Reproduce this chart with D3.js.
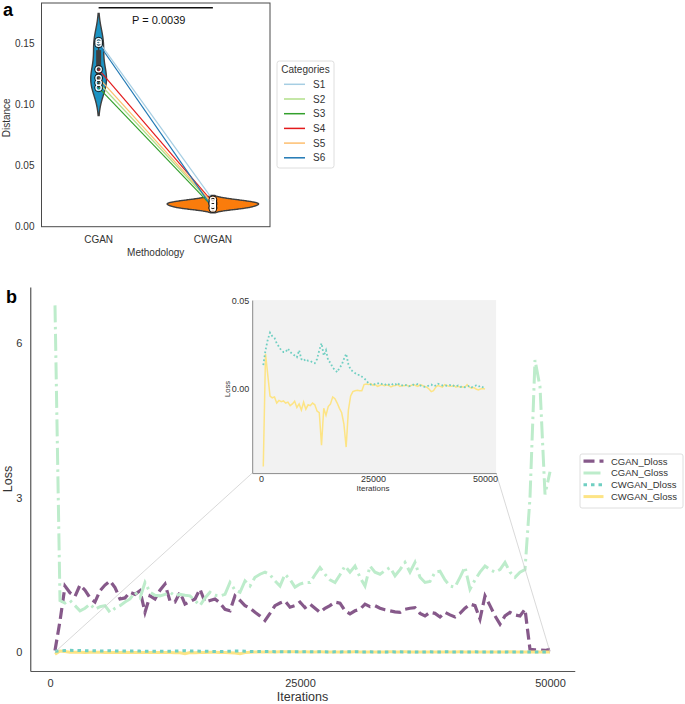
<!DOCTYPE html>
<html>
<head>
<meta charset="utf-8">
<script src="https://cdn.jsdelivr.net/npm/d3@7"></script>
<style>
  body { margin: 0; background: #fff; }
  svg { font-family: "Liberation Sans", Arial, sans-serif; }
</style>
</head>
<body>
<svg id="chart" width="685" height="704"></svg>
<script>
// ---- panel a data
const categories = ["CGAN", "CWGAN"];
const subjects = ["S1", "S2", "S3", "S4", "S5", "S6"];
const cganDistance = [0.152, 0.118, 0.114, 0.129, 0.122, 0.150];
const cwganDistance = [0.022, 0.018, 0.016, 0.020, 0.019, 0.015];
const distanceTicks = [0, 0.05, 0.10, 0.15];
const pValueText = "P = 0.0039";

// ---- panel b data (one value every 500 iterations)
const lossSeries = ["CGAN_Dloss", "CGAN_Gloss", "CWGAN_Dloss", "CWGAN_Gloss"];
const iterations = d3.range(500, 50001, 500);
const cganDloss = [
  0.03, 0.6, 1.28, 1.15, 1.08, 1.3, 1.2, 1.05, 0.97, 1.19,
  1.3, 1.38, 1.25, 1.03, 1.05, 1.16, 1.12, 1.19, 0.77, 1.09,
  1.03, 1.2, 1.32, 0.99, 0.97, 1.16, 0.93, 0.98, 1.03, 1.22,
  0.97, 1.0, 1.03, 0.95, 0.83, 0.8, 1.09, 1.0, 0.9, 0.85,
  0.77, 0.7, 0.61, 0.75, 0.9, 0.95, 0.99, 0.87, 0.9, 0.97,
  0.86, 0.93, 0.85, 0.77, 0.85, 0.9, 0.97, 0.95, 0.8, 0.74,
  0.8, 0.83, 0.93, 0.88, 0.9, 0.85, 0.82, 0.8, 0.78, 0.77,
  0.83, 0.85, 0.86, 0.75, 0.7, 0.77, 0.75, 0.68, 0.77, 0.72,
  0.68, 0.75, 0.85, 0.93, 0.9, 0.64, 1.09, 0.9, 0.7, 0.54,
  0.7, 0.77, 0.72, 0.7, 0.83, 0.05, 0.04, 0.04, 0.03, 0.05];
const cganGloss = [
  6.73, 1.0, 0.95, 1.0, 0.9, 0.8, 0.85, 0.93, 0.83, 0.88,
  0.9, 0.77, 0.85, 0.9, 0.97, 1.03, 1.16, 1.05, 1.35, 1.16,
  1.1, 1.09, 1.12, 1.16, 1.09, 1.12, 1.1, 1.09, 1.0, 0.9,
  1.05, 1.16, 1.1, 1.09, 1.12, 1.35, 1.2, 1.16, 1.38, 1.28,
  1.45, 1.51, 1.55, 1.5, 1.38, 1.28, 1.51, 1.41, 1.26, 1.32,
  1.35, 1.35, 1.5, 1.64, 1.51, 1.4, 1.35, 1.5, 1.67, 1.55,
  1.67, 1.45, 1.28, 1.67, 1.55, 1.51, 1.58, 1.64, 1.48, 1.6,
  1.74, 1.55, 1.74, 1.45, 1.35, 1.37, 1.55, 1.57, 1.4, 1.28,
  1.26, 1.45, 1.65, 1.22, 1.4, 1.55, 1.67, 1.6, 1.55, 1.6,
  1.74, 1.55, 1.45, 1.55, 1.6, 3.0, 5.67, 5.15, 3.06, 3.5];
const cwganDloss = [
  0.0136, 0.022, 0.028, 0.032, 0.030, 0.029, 0.026, 0.024, 0.022, 0.021,
  0.021, 0.023, 0.021, 0.020, 0.019, 0.018, 0.022, 0.017, 0.016, 0.017,
  0.016, 0.016, 0.015, 0.0146, 0.017, 0.022, 0.026, 0.019, 0.022, 0.016,
  0.015, 0.012, 0.011, 0.0095, 0.012, 0.0136, 0.017, 0.020, 0.014, 0.011,
  0.010, 0.009, 0.008, 0.008, 0.007, 0.006, 0.005, 0.003, 0.0025, 0.003,
  0.0025, 0.003, 0.0035, 0.0028, 0.003, 0.002, 0.0025, 0.002, 0.003, 0.0025,
  0.0035, 0.002, 0.002, 0.0025, 0.002, 0.0015, 0.002, 0.0025, 0.0022, 0.0028,
  0.002, 0.0015, 0.0012, 0.0015, 0.002, 0.0025, 0.0015, 0.002, 0.003, 0.0025,
  0.002, 0.0022, 0.0018, 0.002, 0.0025, 0.0018, 0.0015, 0.002, 0.0012, 0.0015,
  0.001, 0.0012, 0.0018, 0.001, 0.0015, 0.002, 0.0012, 0.0018, 0.001, 0.0008];
const cwganGloss = [
  -0.044, 0.020, 0.008, -0.004, -0.005, -0.0045, -0.008, -0.0065, -0.0072, -0.0068,
  -0.008, -0.0075, -0.0095, -0.0085, -0.007, -0.0105, -0.0085, -0.012, -0.0075, -0.0115,
  -0.009, -0.0095, -0.008, -0.009, -0.0125, -0.0135, -0.032, -0.011, -0.015, -0.01,
  -0.0085, -0.0045, -0.0055, -0.008, -0.011, -0.0135, -0.02, -0.033, -0.012, -0.004,
  -0.0015, -0.001, -0.0008, -0.001, -0.001, 0.0025, 0.0028, 0.0025, 0.003, 0.002,
  0.0025, 0.0015, 0.002, 0.0025, 0.0018, 0.0022, 0.002, 0.0012, 0.0018, 0.002,
  0.0025, 0.0015, 0.002, 0.0018, 0.0022, 0.0015, 0.002, 0.0025, 0.002, 0.0015,
  0.0025, 0.002, 0.0015, 0.001, 0.0, -0.0015, -0.001, 0.001, 0.002, 0.0015,
  0.001, 0.0025, 0.002, 0.0015, 0.0015, 0.002, 0.001, 0.0015, 0.001, 0.0012,
  0.001, 0.0025, 0.001, 0.0005, 0.0008, 0.0, -0.0005, 0.0, 0.0002, 0.0];
const lossTicks = [0, 3, 6];
const iterationTicks = [0, 25000, 50000];
const insetLossTicks = [0, 0.05];

const svg = d3.select("#chart");

// gaussian kde with scott bandwidth, cut at 2 bandwidths (like seaborn)
function kde(values) {
  const bw = d3.deviation(values) * Math.pow(values.length, -0.2);
  const lo = d3.min(values) - 2 * bw, hi = d3.max(values) + 2 * bw;
  return d3.range(0, 121).map(i => {
    const v = lo + (hi - lo) * i / 120;
    const dens = d3.mean(values, x => Math.exp(-0.5 * ((v - x) / bw) ** 2)) / (bw * Math.sqrt(2 * Math.PI));
    return { v, dens };
  });
}

class DistanceViolin {
  constructor(_config) {
    this.config = {
      parent: _config.parent,
      left: 41.5, right: 270, top: 3, bottom: 226.7,
      yMax: 0.1834,
      violinColors: ["#1b93c3", "#fa7c0c"],
      lineColors: ["#a6cee3", "#b2df8a", "#33a02c", "#e31a1c", "#fdbf6f", "#1f78b4"],
      edge: "#3f3f3f",
      bracketLevel: 0.1795,
      legend: { x: 277, y: 61, w: 57, h: 107, row0: 84.3, step: 14.7 }
    };
    this.groups = [cganDistance, cwganDistance];
    this.initVis();
  }

  initVis() {
    let vis = this;
    const c = vis.config;
    vis.g = c.parent.append("g");

    vis.x = d3.scaleBand().domain(categories).range([c.left, c.right]);
    vis.cx = d => vis.x(d) + vis.x.bandwidth() / 2;
    vis.y = d3.scaleLinear().domain([0, c.yMax]).range([c.bottom, c.top]);

    vis.drawViolins();
    vis.drawPairs();
    vis.drawAxes();
    vis.drawBracket();
    vis.drawLegend();
  }

  drawViolins() {
    let vis = this;
    const c = vis.config;
    const dens = vis.groups.map(kde);
    const maxD = d3.max(dens, k => d3.max(k, p => p.dens));
    const w = d3.scaleLinear().domain([0, maxD]).range([0, vis.x.bandwidth() * 0.4]);

    categories.forEach((cat, i) => {
      const cx = vis.cx(cat);
      const area = d3.area()
        .x0(p => cx - w(p.dens))
        .x1(p => cx + w(p.dens))
        .y(p => vis.y(p.v));
      vis.g.append("path")
        .attr("d", area(dens[i]))
        .attr("fill", c.violinColors[i])
        .attr("stroke", c.edge)
        .attr("stroke-width", 1.4);

      const sorted = vis.groups[i].slice().sort(d3.ascending);
      vis.g.append("line")
        .attr("x1", cx).attr("x2", cx)
        .attr("y1", vis.y(sorted[0])).attr("y2", vis.y(sorted[sorted.length - 1]))
        .attr("stroke", c.edge).attr("stroke-width", 1.5);
      vis.g.append("line")
        .attr("x1", cx).attr("x2", cx)
        .attr("y1", vis.y(d3.quantile(sorted, 0.25))).attr("y2", vis.y(d3.quantile(sorted, 0.75)))
        .attr("stroke", c.edge).attr("stroke-width", 5);
    });
  }

  drawPairs() {
    let vis = this;
    const c = vis.config;
    vis.g.selectAll("line.pair")
      .data(subjects)
      .join("line")
      .attr("class", "pair")
      .attr("x1", vis.cx(categories[0]))
      .attr("x2", vis.cx(categories[1]))
      .attr("y1", (d, i) => vis.y(cganDistance[i]))
      .attr("y2", (d, i) => vis.y(cwganDistance[i]))
      .attr("stroke", (d, i) => c.lineColors[i])
      .attr("stroke-width", 1.2);

    categories.forEach((cat, k) => {
      vis.g.selectAll(`circle.pt${k}`)
        .data(vis.groups[k])
        .join("circle")
        .attr("class", `pt${k}`)
        .attr("cx", vis.cx(cat))
        .attr("cy", d => vis.y(d))
        .attr("r", 4)
        .attr("fill", "none")
        .attr("stroke", "#1a1a1a")
        .attr("stroke-width", 1);
      vis.g.selectAll(`circle.pti${k}`)
        .data(vis.groups[k])
        .join("circle")
        .attr("class", `pti${k}`)
        .attr("cx", vis.cx(cat))
        .attr("cy", d => vis.y(d))
        .attr("r", 2.6)
        .attr("fill", "none")
        .attr("stroke", "#ffffff")
        .attr("stroke-width", 1.2);
    });
  }

  drawAxes() {
    let vis = this;
    const c = vis.config;
    vis.g.append("rect")
      .attr("x", c.left).attr("y", c.top)
      .attr("width", c.right - c.left).attr("height", c.bottom - c.top)
      .attr("fill", "none").attr("stroke", "#4a4a4a").attr("stroke-width", 1);

    const yAxis = vis.g.append("g")
      .attr("transform", `translate(${c.left},0)`)
      .call(d3.axisLeft(vis.y).tickValues(distanceTicks).tickFormat(d3.format(".2f")).tickSize(0).tickPadding(7));
    const xAxis = vis.g.append("g")
      .attr("transform", `translate(0,${c.bottom})`)
      .call(d3.axisBottom(vis.x).tickSize(0).tickPadding(9));
    [yAxis, xAxis].forEach(a => {
      a.select(".domain").remove();
      a.selectAll("text").attr("font-size", 10).attr("fill", "#333").attr("font-family", null);
    });

    vis.g.append("text")
      .attr("transform", `translate(9.5,${(c.top + c.bottom) / 2 + 3}) rotate(-90)`)
      .attr("text-anchor", "middle")
      .attr("font-size", 10).attr("fill", "#333")
      .text("Distance");
    vis.g.append("text")
      .attr("x", (c.left + c.right) / 2).attr("y", 256)
      .attr("text-anchor", "middle")
      .attr("font-size", 10).attr("fill", "#333")
      .text("Methodology");
    vis.g.append("text")
      .attr("x", 3).attr("y", 16)
      .attr("font-size", 18).attr("font-weight", "bold")
      .text("a");
  }

  drawBracket() {
    let vis = this;
    const c = vis.config;
    const x1 = vis.cx(categories[0]), x2 = vis.cx(categories[1]);
    vis.g.append("line")
      .attr("x1", x1).attr("x2", x2)
      .attr("y1", vis.y(c.bracketLevel)).attr("y2", vis.y(c.bracketLevel))
      .attr("stroke", "#111").attr("stroke-width", 1.4);
    vis.g.append("text")
      .attr("x", (x1 + x2) / 2 + 3).attr("y", vis.y(c.bracketLevel) + 16)
      .attr("text-anchor", "middle")
      .attr("font-size", 11).attr("fill", "#111")
      .text(pValueText);
  }

  drawLegend() {
    let vis = this;
    const L = vis.config.legend;
    const lg = vis.g.append("g");
    lg.append("rect")
      .attr("x", L.x).attr("y", L.y).attr("width", L.w).attr("height", L.h)
      .attr("rx", 2.5)
      .attr("fill", "#fff").attr("stroke", "#d6d6d6").attr("stroke-width", 0.8);
    lg.append("text")
      .attr("x", L.x + L.w / 2).attr("y", L.y + 11.5)
      .attr("text-anchor", "middle").attr("font-size", 10).attr("fill", "#333")
      .text("Categories");
    const rows = lg.selectAll("g.row")
      .data(subjects)
      .join("g")
      .attr("class", "row")
      .attr("transform", (d, i) => `translate(0,${L.row0 + i * L.step})`);
    rows.append("line")
      .attr("x1", L.x + 7).attr("x2", L.x + 28)
      .attr("stroke", (d, i) => vis.config.lineColors[i])
      .attr("stroke-width", 1.5);
    rows.append("text")
      .attr("x", L.x + 36).attr("y", 3.6)
      .attr("font-size", 10).attr("fill", "#333")
      .text(d => d);
  }
}

class LossChart {
  constructor(_config) {
    this.config = {
      parent: _config.parent,
      left: 30.25, right: 574.75, top: 287, bottom: 671,
      xDomain: [-1975, 52475],
      yDomain: [-0.369, 7.087],
      inset: { left: 252.2, right: 496.1, top: 300.1, bottom: 473.1, yDomain: [-0.0478, 0.0505] },
      styles: [
        { color: "#86598a", dash: "11,5", width: 3.2, insetDash: "11,5", insetWidth: 2 },
        { color: "#bdeccb", dash: "17,4.5,2.5,4.5", width: 3, insetDash: "8,2,1.5,2", insetWidth: 2 },
        { color: "#6fcfc2", dash: "3.5,4", width: 3, insetDash: "1.7,2.3", insetWidth: 1.8 },
        { color: "#fde485", dash: null, width: 3, insetDash: null, insetWidth: 1.5 }
      ],
      drawOrder: [0, 1, 3, 2],
      legend: { x: 580, y: 454, w: 103, h: 54, row0: 461.2, step: 11.8 }
    };
    this.values = [cganDloss, cganGloss, cwganDloss, cwganGloss];
    this.initVis();
  }

  initVis() {
    let vis = this;
    const c = vis.config;
    vis.g = c.parent.append("g");
    vis.x = d3.scaleLinear().domain(c.xDomain).range([c.left, c.right]);
    vis.y = d3.scaleLinear().domain(c.yDomain).range([c.bottom, c.top]);

    vis.drawAxes();
    vis.drawLines();
    vis.drawConnectors();
    vis.drawInset();
    vis.drawLegend();
  }

  drawAxes() {
    let vis = this;
    const c = vis.config;
    const yAxis = vis.g.append("g")
      .attr("transform", `translate(${c.left},0)`)
      .call(d3.axisLeft(vis.y).tickValues(lossTicks).tickSize(0).tickSizeOuter(0).tickPadding(8));
    const xAxis = vis.g.append("g")
      .attr("transform", `translate(0,${c.bottom})`)
      .call(d3.axisBottom(vis.x).tickValues(iterationTicks).tickFormat(d3.format("d")).tickSize(0).tickSizeOuter(0).tickPadding(8));
    [yAxis, xAxis].forEach(a => {
      a.select(".domain").attr("stroke", "#555").attr("stroke-width", 1.2);
      a.selectAll("text").attr("font-size", 11).attr("fill", "#333").attr("font-family", null);
    });

    vis.g.append("text")
      .attr("transform", `translate(11.5,${(c.top + c.bottom) / 2}) rotate(-90)`)
      .attr("text-anchor", "middle")
      .attr("font-size", 12.5).attr("fill", "#333")
      .text("Loss");
    vis.g.append("text")
      .attr("x", (c.left + c.right) / 2).attr("y", 701)
      .attr("text-anchor", "middle")
      .attr("font-size", 12.5).attr("fill", "#333")
      .text("Iterations");
    vis.g.append("text")
      .attr("x", 6).attr("y", 303)
      .attr("font-size", 18).attr("font-weight", "bold")
      .text("b");
  }

  drawLines() {
    let vis = this;
    const c = vis.config;
    const line = d3.line().x((d, i) => vis.x(iterations[i])).y(d => vis.y(d));
    c.drawOrder.forEach(k => {
      const s = c.styles[k];
      vis.g.append("path")
        .attr("d", line(vis.values[k]))
        .attr("fill", "none")
        .attr("stroke", s.color)
        .attr("stroke-width", s.width)
        .attr("stroke-dasharray", s.dash);
    });
  }

  drawConnectors() {
    let vis = this;
    const ins = vis.config.inset;
    const ends = [
      [vis.x(iterations[0]), ins.left],
      [vis.x(iterations[iterations.length - 1]), ins.right]
    ];
    vis.g.selectAll("line.connector")
      .data(ends)
      .join("line")
      .attr("class", "connector")
      .attr("x1", d => d[0]).attr("y1", vis.y(0))
      .attr("x2", d => d[1]).attr("y2", ins.bottom)
      .attr("stroke", "#c9c9c9").attr("stroke-width", 0.7);
  }

  drawInset() {
    let vis = this;
    const c = vis.config;
    const ins = c.inset;
    const gi = vis.g.append("g");
    const xi = d3.scaleLinear().domain(c.xDomain).range([ins.left, ins.right]);
    const yi = d3.scaleLinear().domain(ins.yDomain).range([ins.bottom, ins.top]);

    gi.append("rect")
      .attr("x", ins.left).attr("y", ins.top)
      .attr("width", ins.right - ins.left).attr("height", ins.bottom - ins.top)
      .attr("fill", "#f2f2f2");

    const line = d3.line().x((d, i) => xi(iterations[i])).y(d => yi(d));
    [3, 2].forEach(k => {
      const s = c.styles[k];
      gi.append("path")
        .attr("d", line(vis.values[k]))
        .attr("fill", "none")
        .attr("stroke", s.color)
        .attr("stroke-width", s.insetWidth)
        .attr("stroke-dasharray", s.insetDash);
    });

    const ya = gi.append("g")
      .attr("transform", `translate(${ins.left},0)`)
      .call(d3.axisLeft(yi).tickValues(insetLossTicks).tickFormat(d3.format(".2f")).tickSize(0).tickSizeOuter(0).tickPadding(3));
    const xa = gi.append("g")
      .attr("transform", `translate(0,${ins.bottom})`)
      .call(d3.axisBottom(xi).tickValues(iterationTicks).tickFormat(d3.format("d")).tickSize(0).tickSizeOuter(0).tickPadding(3));
    [ya, xa].forEach(a => {
      a.select(".domain").attr("stroke", "#8a8a8a").attr("stroke-width", 1);
      a.selectAll("text").attr("font-size", 9).attr("fill", "#333").attr("font-family", null);
    });

    gi.append("text")
      .attr("transform", `translate(229.5,${yi(0)}) rotate(-90)`)
      .attr("text-anchor", "middle")
      .attr("font-size", 7.5).attr("fill", "#333")
      .text("Loss");
    gi.append("text")
      .attr("x", xi(25000)).attr("y", 491)
      .attr("text-anchor", "middle")
      .attr("font-size", 8).attr("fill", "#333")
      .text("Iterations");
  }

  drawLegend() {
    let vis = this;
    const c = vis.config;
    const L = c.legend;
    const lg = vis.g.append("g");
    lg.append("rect")
      .attr("x", L.x).attr("y", L.y).attr("width", L.w).attr("height", L.h)
      .attr("rx", 2)
      .attr("fill", "#fff").attr("stroke", "#d6d6d6").attr("stroke-width", 0.8);
    const rows = lg.selectAll("g.row")
      .data(lossSeries)
      .join("g")
      .attr("class", "row")
      .attr("transform", (d, i) => `translate(0,${L.row0 + i * L.step})`);
    rows.append("line")
      .attr("x1", L.x + 3.5).attr("x2", L.x + 23.5)
      .attr("stroke", (d, i) => c.styles[i].color)
      .attr("stroke-width", (d, i) => c.styles[i].width)
      .attr("stroke-dasharray", (d, i) => c.styles[i].dash);
    rows.append("text")
      .attr("x", L.x + 31).attr("y", 3.3)
      .attr("font-size", 9.5).attr("fill", "#333")
      .text(d => d);
  }
}

new DistanceViolin({ parent: svg });
new LossChart({ parent: svg });
</script>
</body>
</html>
